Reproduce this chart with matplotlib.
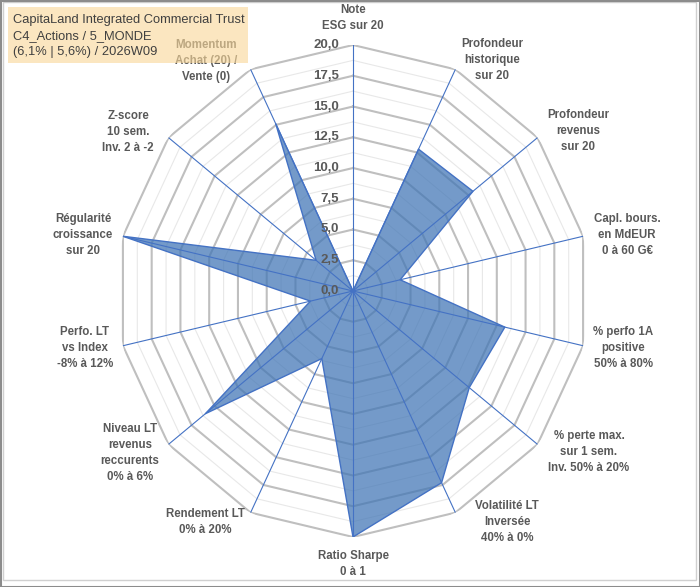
import matplotlib
matplotlib.use("Agg")
import matplotlib.pyplot as plt
from matplotlib.patches import Rectangle
import numpy as np

plt.rcParams['font.family'] = ['Liberation Sans', 'DejaVu Sans']

# axes of the radar, clockwise from the top
categories = [
    "Note\nESG sur 20",
    "Profondeur\nhistorique\nsur 20",
    "Profondeur\nrevenus\nsur 20",
    "Capl. bours.\nen MdEUR\n0 à 60 G€",
    "% perfo 1A\npositive\n50% à 80%",
    "% perte max.\nsur 1 sem.\nInv. 50% à 20%",
    "Volatilité LT\nInversée\n40% à 0%",
    "Ratio Sharpe\n0 à 1",
    "Rendement LT\n0% à 20%",
    "Niveau LT\nrevenus\nreccurents\n0% à 6%",
    "Perfo. LT\nvs Index\n-8% à 12%",
    "Régularité\ncroissance\nsur 20",
    "Z-score\n10 sem.\nInv. 2 à -2",
    "Momentum\nAchat (20) /\nVente (0)",
]
scores = [0.0, 12.8, 13.0, 4.1, 13.2, 12.6, 17.3, 20.0, 6.1, 16.0, 3.7, 20.0, 4.0, 15.1]
ticks = [0.0, 2.5, 5.0, 7.5, 10.0, 12.5, 15.0, 17.5, 20.0]
tick_labels = ["0,0", "2,5", "5,0", "7,5", "10,0", "12,5", "15,0", "17,5", "20,0"]

title_lines = "CapitaLand Integrated Commercial Trust\nC4_Actions / 5_MONDE\n(6,1% | 5,6%) / 2026W09"

# label anchor positions in pixels (x centre, y centre)
label_pos = [(353, 18), (492, 60), (578, 131), (627, 235), (623, 348), (589, 452),
             (507, 522), (353, 564), (205, 522), (130, 453), (85, 348), (83, 235),
             (128, 132), (206, 61)]

W, H = 700, 587
fig = plt.figure(figsize=(7, 5.87), dpi=100)

# plot area is slightly narrower than tall in the reference
cx, cy, Ry, Rx = 353, 291, 246, 236
ax = fig.add_axes([(cx - Rx) / W, (H - cy - Ry) / H, 2 * Rx / W, 2 * Ry / H], projection='polar')
ax.set_aspect('auto')
ax.set_theta_zero_location('N')
ax.set_theta_direction(-1)
ax.set_ylim(0, 20)
ax.grid(False)
ax.set_xticks([])
ax.set_yticks([])
ax.spines['polar'].set_visible(False)
ax.patch.set_alpha(0)

n = len(categories)
angles = np.linspace(0, 2 * np.pi, n, endpoint=False)
closed = np.append(angles, angles[0])

# polygon gridlines
for lvl in np.arange(1.25, 20, 2.5):
    ax.plot(closed, [lvl] * (n + 1), color='#E8E8E8', lw=0.8, zorder=1)
for lvl in ticks[1:]:
    ax.plot(closed, [lvl] * (n + 1), color='#BFBFBF', lw=1.5, zorder=1)

# spokes
for a in angles:
    ax.plot([a, a], [0, 20], color='#4472C4', lw=0.8, zorder=3)

vals = np.append(scores, scores[0])
ax.fill(closed, vals, color='#3F74B5', alpha=0.72, zorder=2, lw=0)
ax.plot(closed, vals, color='#4472C4', lw=1.0, zorder=3)

# radial tick labels
for t, lab in zip(ticks, tick_labels):
    y = cy - t / 20 * Ry
    fig.text(339 / W, 1 - y / H, lab, ha='right', va='center', fontsize=9.5,
             fontweight='bold', color='#595959')

for lab, (x, y) in zip(categories, label_pos):
    fig.text(x / W, 1 - y / H, lab, ha='center', va='center', fontsize=8.3,
             fontweight='bold', color='#595959', linespacing=1.45)

# title box, drawn over the Momentum label
fig.patches.append(Rectangle((8 / W, 1 - 63 / H), 240 / W, 56 / H, transform=fig.transFigure,
                             facecolor='#FAD89A', alpha=0.62, edgecolor='none', zorder=5))
fig.text(13 / W, 1 - 36 / H, title_lines, ha='left', va='center', fontsize=9.3,
         color='#404040', linespacing=1.5, zorder=6)

# chart borders
fig.patches.append(Rectangle((3 / W, 1 - 580 / H), 693 / W, 578 / H, transform=fig.transFigure,
                             facecolor='none', edgecolor='#D0D0D0', lw=1.0, zorder=0))
fig.patches.append(Rectangle((0.5 / W, 0.5 / H), 699 / W, 586 / H, transform=fig.transFigure,
                             facecolor='none', edgecolor='#8C8C8C', lw=1.5, zorder=0))

fig.savefig("out.png", dpi=100)
